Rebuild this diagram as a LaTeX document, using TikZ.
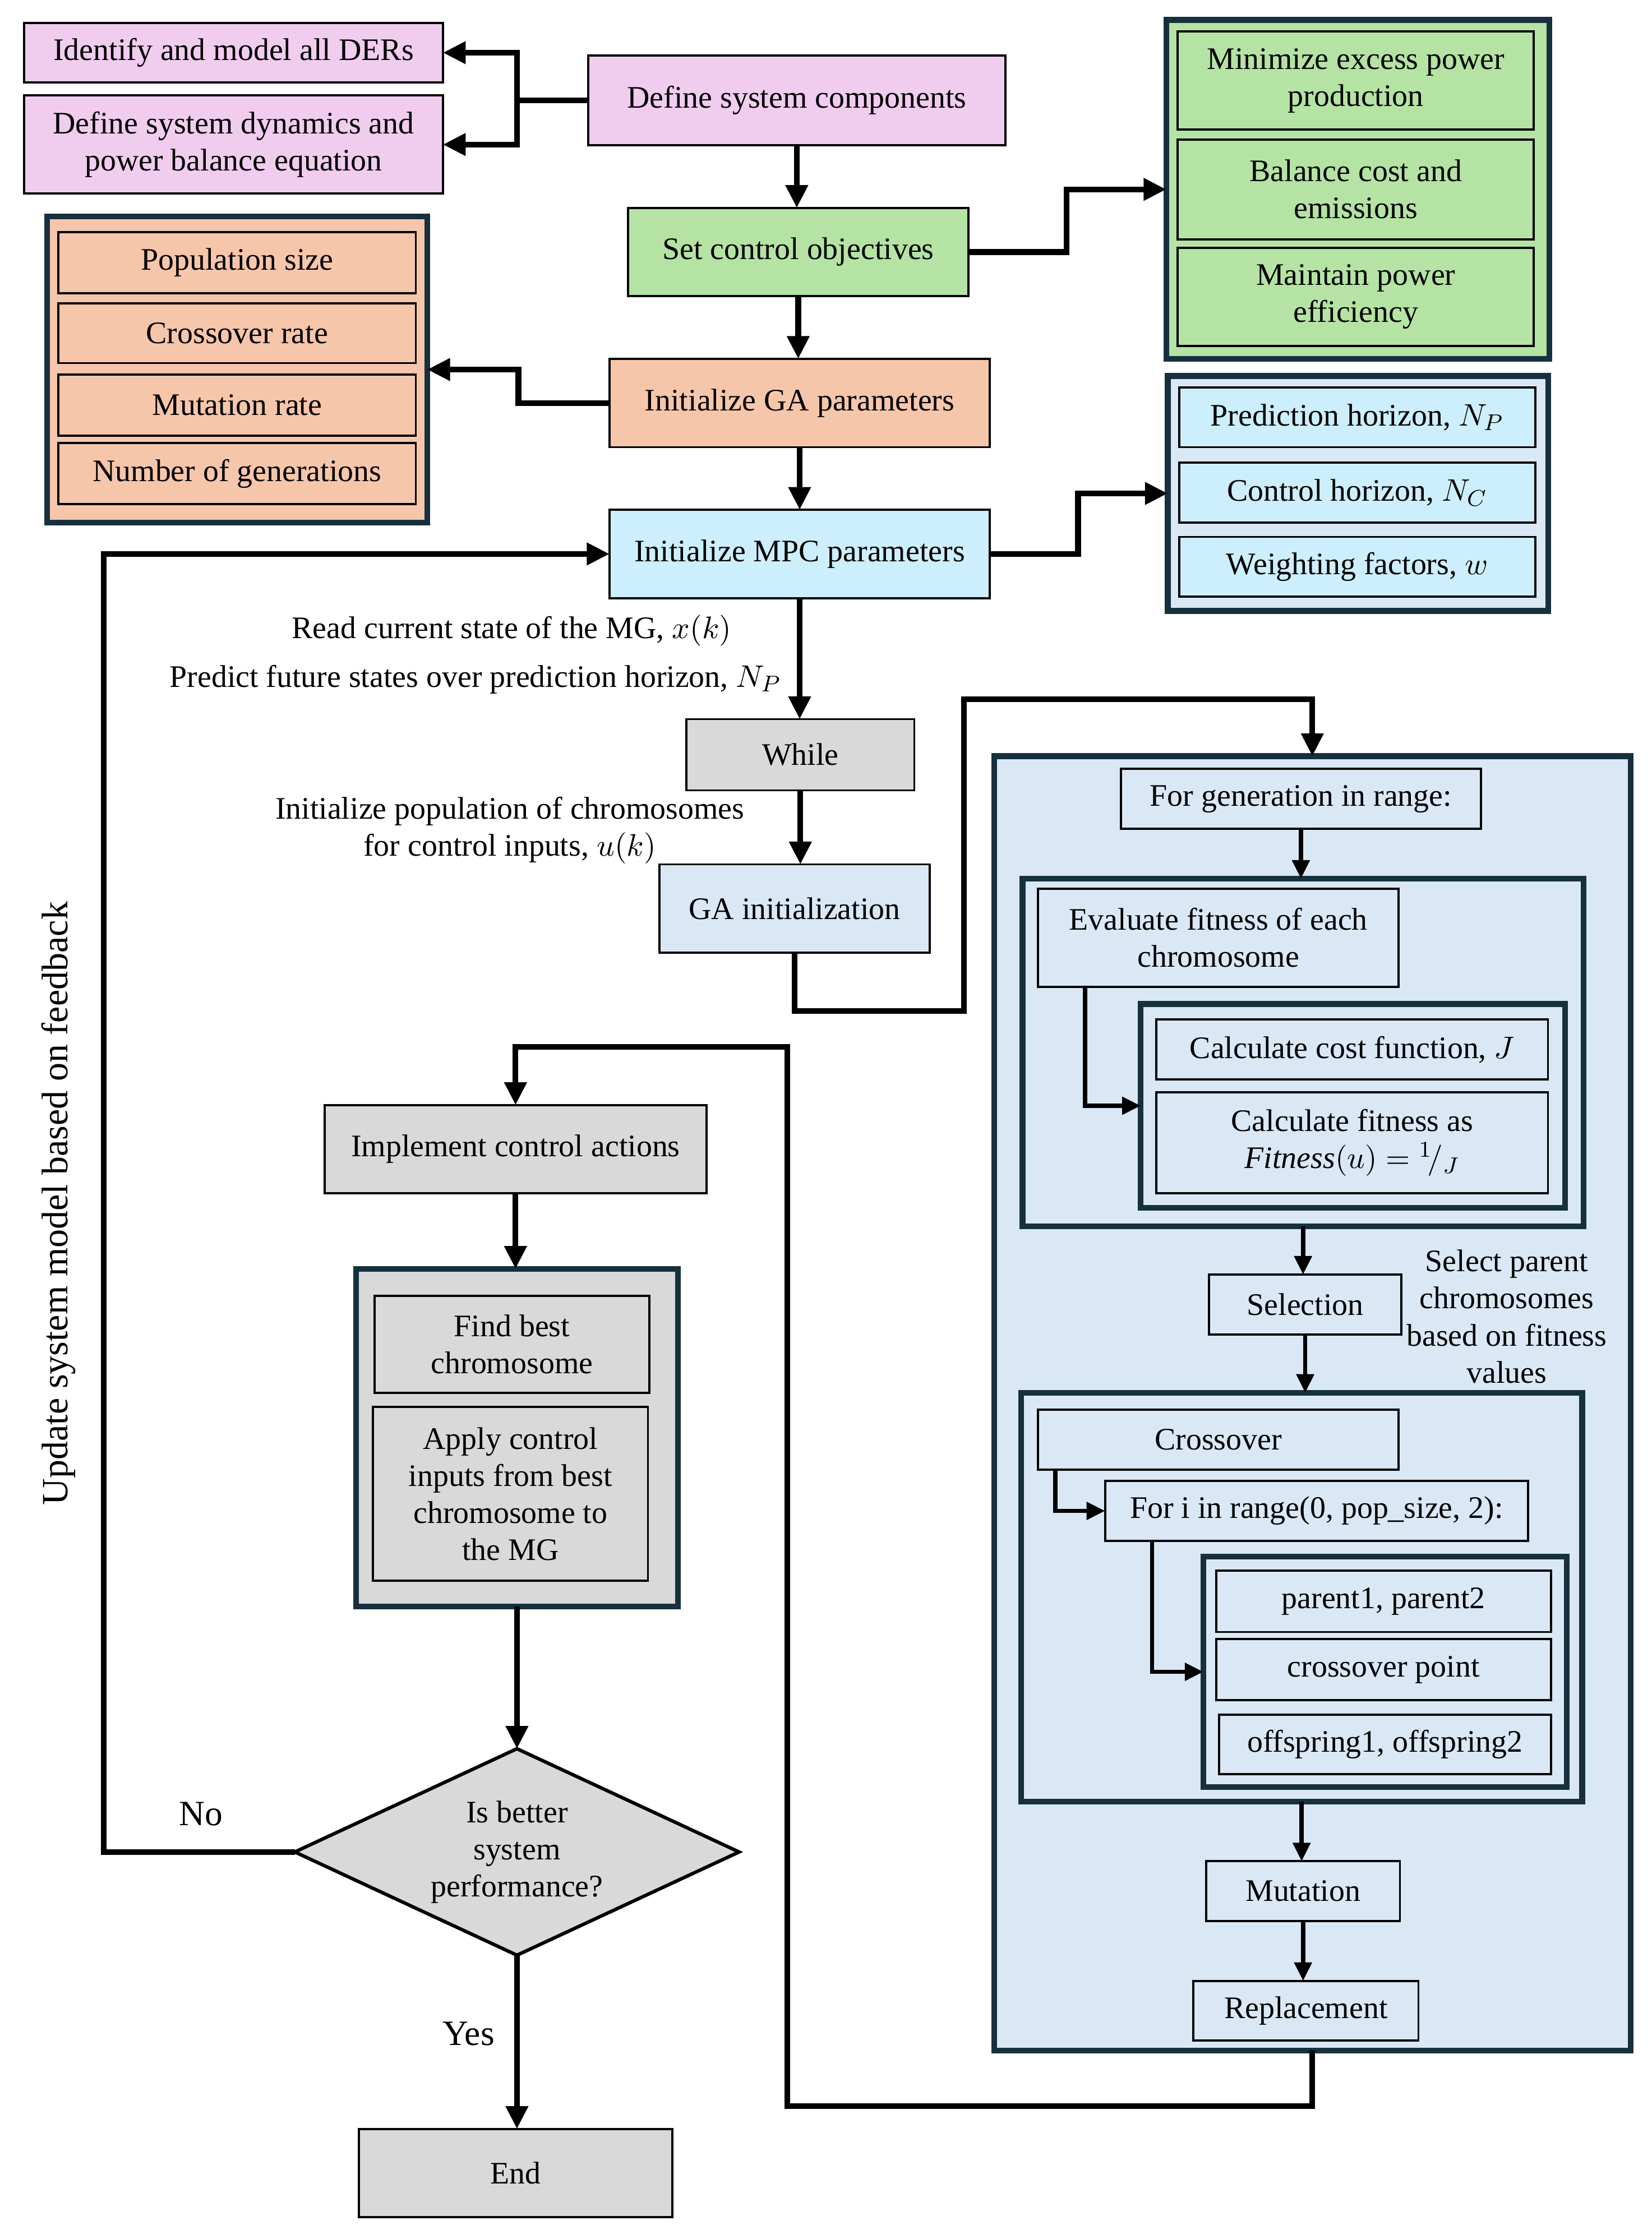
\documentclass[tikz,border=0pt]{standalone}
\usepackage{fontspec}
\setmainfont{Liberation Serif}
\usetikzlibrary{arrows.meta,shapes.geometric,calc}
\definecolor{pinkc}{HTML}{F0CDEF}
\definecolor{greenc}{HTML}{B5E3A3}
\definecolor{salmonc}{HTML}{F6C6AB}
\definecolor{cyanc}{HTML}{CDEEFC}
\definecolor{bluec}{HTML}{DAE8F5}
\definecolor{grayc}{HTML}{D9D9D9}
\definecolor{navyc}{HTML}{17303E}
\newcommand\bx[7]{%
  \pgfmathsetmacro\bxw{(#4-#2)*0.5}%
  \pgfmathsetmacro\bxh{(#5-#3)*0.5}%
  \node[#6, minimum width=\bxw pt, minimum height=\bxh pt] (#1) at ({(#2+#4)/2},{(#3+#5)/2}) {#7};}
\begin{document}
\begin{tikzpicture}[x=0.5pt,y=-0.5pt,
  font=\fontsize{11}{13}\selectfont,
  box/.style={draw=black, line width=0.75pt, rectangle, inner sep=1pt, outer sep=0pt, align=center},
  grp/.style={draw=navyc, line width=2pt, rectangle, inner sep=0pt, outer sep=0pt},
  arr/.style={line width=2pt, -{Triangle[length=8pt,width=7.5pt]}},
  arrs/.style={line width=1.5pt, -{Triangle[length=6.5pt,width=6pt]}},
  lbl/.style={inner sep=0pt, align=center}]
\fill[white] (0,0) rectangle (1160,1572.3);
\useasboundingbox (0,0) rectangle (1160,1572.3);

% top pink
\bx{der}{17}{16}{311}{58}{box,fill=pinkc}{Identify and model all DERs}
\bx{dyn}{17}{67}{311}{136}{box,fill=pinkc}{Define system dynamics and\\power balance equation}
\bx{comp}{413}{39}{706}{102}{box,fill=pinkc}{Define system components}
\bx{obj}{441}{146}{680}{208}{box,fill=greenc}{Set control objectives}

% green group
\bx{ggrp}{819}{14}{1088}{252}{grp,fill=greenc}{}
\bx{m1}{827}{22}{1077}{91}{box,fill=greenc}{Minimize excess power\\production}
\bx{m2}{827}{98}{1077}{168}{box,fill=greenc}{Balance cost and\\emissions}
\bx{m3}{827}{174}{1077}{243}{box,fill=greenc}{Maintain power\\efficiency}

\bx{ga}{428}{252}{695}{314}{box,fill=salmonc}{Initialize GA parameters}
% orange group
\bx{ogrp}{33}{152}{300}{367}{grp,fill=salmonc}{}
\bx{o1}{41}{163}{292}{206}{box,fill=salmonc}{Population size}
\bx{o2}{41}{213}{292}{255}{box,fill=salmonc}{Crossover rate}
\bx{o3}{41}{263}{292}{306}{box,fill=salmonc}{Mutation rate}
\bx{o4}{41}{311}{292}{354}{box,fill=salmonc}{Number of generations}

\bx{mpc}{428}{358}{695}{420}{box,fill=cyanc}{Initialize MPC parameters}
% blue group
\bx{bgrp}{820}{264}{1087}{429}{grp,fill=bluec}{}
\bx{b1}{828}{272}{1078}{314}{box,fill=cyanc}{Prediction horizon, $N_P$}
\bx{b2}{828}{325}{1078}{367}{box,fill=cyanc}{Control horizon, $N_C$}
\bx{b3}{828}{377}{1078}{419}{box,fill=cyanc}{Weighting factors, $w$}

\bx{while}{482}{505}{642}{555}{box,fill=grayc}{While}
\bx{gainit}{463}{607}{653}{669}{box,fill=bluec}{GA initialization}

\node[lbl, anchor=east] (rd) at (514,443) {Read current state of the MG, $x(k)$};
\node[lbl, anchor=east] (pr) at (549,477) {Predict future states over prediction horizon, $N_P$};
\node[lbl] (ip) at (358,583) {Initialize population of chromosomes\\for control inputs, $u(k)$};

% big GA box
\bx{big}{698}{531}{1145}{1440}{grp,fill=bluec}{}
\bx{forgen}{787}{540}{1040}{582}{box,fill=bluec}{For generation in range:}
\bx{g1}{718}{617}{1112}{861}{grp,fill=bluec}{}
\bx{eval}{729}{624}{982}{693}{box,fill=bluec}{Evaluate fitness of each\\chromosome}
\bx{in1}{801}{705}{1099}{848}{grp,fill=bluec}{}
\bx{cost}{812}{716}{1087}{758}{box,fill=bluec}{Calculate cost function, $J$}
\bx{fit}{812}{767}{1087}{838}{box,fill=bluec}{Calculate fitness as\\$\mathit{Fitness}(u) = {}^{1}\!/_{J}$}
\bx{sel}{849}{895}{984}{937}{box,fill=bluec}{Selection}
\node[lbl] (spc) at (1058,924.5) {Select parent\\chromosomes\\based on fitness\\values};
\bx{g2}{717}{978}{1111}{1265}{grp,fill=bluec}{}
\bx{cross}{729}{990}{982}{1032}{box,fill=bluec}{Crossover}
\bx{fori}{776}{1040}{1073}{1082}{box,fill=bluec}{For i in range(0, pop\_size, 2):}
\bx{in2}{845}{1093}{1100}{1255}{grp,fill=bluec}{}
\bx{p1}{854}{1103}{1089}{1146}{box,fill=bluec}{parent1, parent2}
\bx{cp}{854}{1151}{1089}{1194}{box,fill=bluec}{crossover point}
\bx{off}{856}{1204}{1089}{1246}{box,fill=bluec}{offspring1, offspring2}
\bx{mut}{847}{1307}{983}{1349}{box,fill=bluec}{Mutation}
\bx{rep}{838}{1391}{996}{1433}{box,fill=bluec}{Replacement}

% bottom-left
\bx{impl}{228}{776}{496}{838}{box,fill=grayc}{Implement control actions}
\bx{ggray}{250}{891}{476}{1128}{grp,fill=grayc}{}
\bx{fb}{263}{910}{456}{978}{box,fill=grayc}{Find best\\chromosome}
\bx{ap}{262}{988}{455}{1110}{box,fill=grayc}{Apply control\\inputs from best\\chromosome to\\the MG}
\node[diamond, draw=black, fill=grayc, line width=1.2pt, aspect=2.15, inner sep=0pt, outer sep=0pt,
  minimum width=156pt, minimum height=72.5pt, align=center] (dia) at (363,1300.5) {Is better\\system\\performance?};
\bx{end}{252}{1495}{472}{1557}{box,fill=grayc}{End}

\node[lbl, font=\fontsize{12.5}{15}\selectfont] (no) at (141,1274) {No};
\node[lbl, font=\fontsize{12.5}{15}\selectfont] (yes) at (329,1428) {Yes};
\node[lbl, rotate=90, font=\fontsize{13}{15}\selectfont] (upd) at (41,845) {Update system model based on feedback};

% connectors top
\draw[arr] (comp.west) -- ++(-50,0) |- (der.east);
\draw[arr] (comp.west) -- ++(-50,0) |- (dyn.east);
\draw[arr] (comp.south) -- (comp.south |- obj.north);
\draw[arr] (obj.east) -- ++(69,0) |- (ggrp.west);
\draw[arr] (obj.south) -- (obj.south |- ga.north);
\draw[arr] (ga.west) -- ++(-64,0) |- (ogrp.east);
\draw[arr] (ga.south) -- (ga.south |- mpc.north);
\draw[arr] (mpc.east) -- ++(62,0) |- (bgrp.west);
\draw[arr] (mpc.south) -- (mpc.south |- while.north);
\draw[arr] (while.south) -- (while.south |- gainit.north);

% GA init to big box
\coordinate (k1) at (677,710);
\coordinate (k2) at (677,491);
\draw[arr] (gainit.south) |- (k1) -- (k2) -| (big.north);

% inside big box
\draw[arrs] (forgen.south) -- (forgen.south |- g1.north);
\draw[arrs] ($(eval.south west)+(33,0)$) |- (in1.west);
\draw[arrs] (g1.south) -- (g1.south |- sel.north);
\draw[arrs] (sel.south) -- (sel.south |- g2.north);
\draw[arrs] ($(cross.south west)+(12,0)$) |- (fori.west);
\draw[arrs] ($(fori.south west)+(33,0)$) |- (in2.west);
\draw[arrs] (g2.south) -- (g2.south |- mut.north);
\draw[arrs] (mut.south) -- (mut.south |- rep.north);

% big box to implement
\coordinate (k3) at (553,1479);
\coordinate (k4) at (553,735);
\draw[arr] (big.south) |- (k3) -- (k4) -| (impl.north);

% bottom-left
\draw[arr] (impl.south) -- (impl.south |- ggray.north);
\draw[arr] (ggray.south) -- (ggray.south |- dia.north);
\draw[arr] (dia.south) -- (dia.south |- end.north);
\draw[arr] (dia.west) -- ++(-134,0) |- (mpc.west);
\end{tikzpicture}
\end{document}
